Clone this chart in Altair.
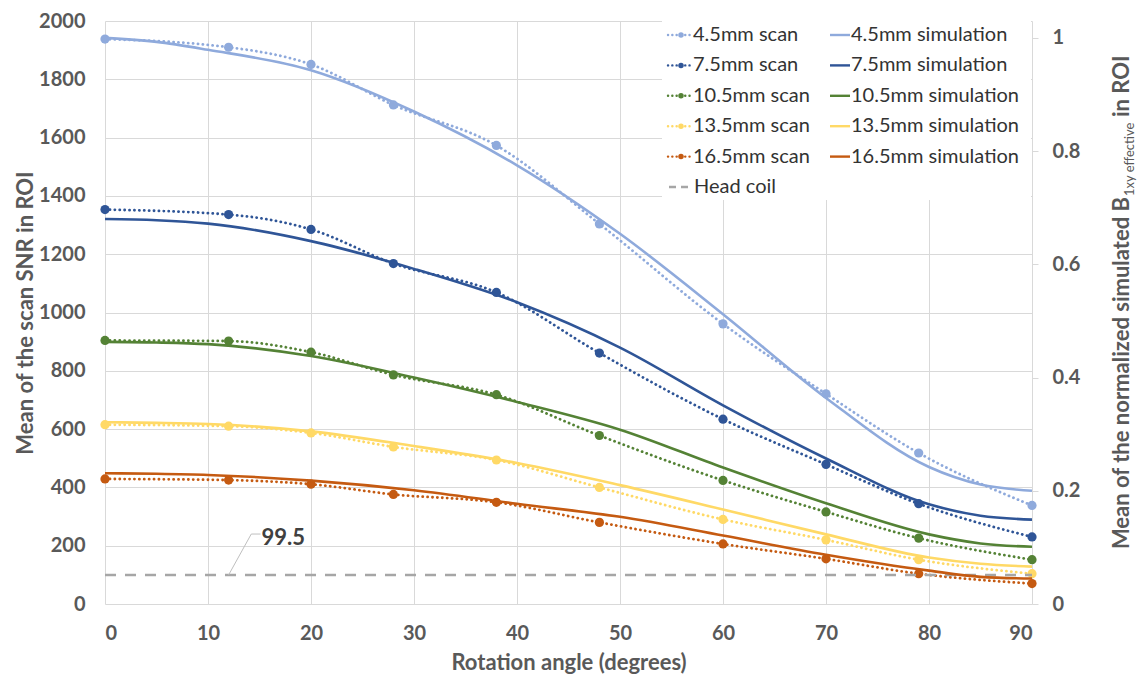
import altair as alt
import pandas as pd

# ---------------- data ----------------
series_names = ["4.5mm", "7.5mm", "10.5mm", "13.5mm", "16.5mm"]
series_colors = ["#8FAADC", "#2F5597", "#548235", "#FFD966", "#C55A11"]

angles_scan = [0, 12, 20, 28, 38, 48, 60, 70, 79, 90]
scan_45 = [1938, 1910, 1851, 1712, 1573, 1304, 961, 721, 518, 338]
scan_75 = [1353, 1336, 1285, 1168, 1069, 861, 634, 479, 344, 230]
scan_105 = [904, 902, 864, 786, 718, 578, 424, 316, 226, 152]
scan_135 = [615, 610, 587, 539, 494, 400, 290, 220, 152, 104]
scan_165 = [429, 425, 411, 376, 349, 280, 206, 155, 104, 70]

angles_sim = [0, 5, 10, 20, 30, 40, 50, 60, 70, 80, 85, 90]
sim_45 = [1.000, 0.993, 0.979, 0.943, 0.870, 0.775, 0.654, 0.512, 0.364, 0.242, 0.211, 0.200]
sim_75 = [0.680, 0.678, 0.672, 0.641, 0.592, 0.533, 0.453, 0.351, 0.257, 0.176, 0.156, 0.149]
sim_105 = [0.463, 0.462, 0.459, 0.438, 0.400, 0.357, 0.308, 0.241, 0.178, 0.123, 0.107, 0.101]
sim_135 = [0.321, 0.320, 0.318, 0.305, 0.279, 0.249, 0.210, 0.167, 0.123, 0.082, 0.071, 0.066]
sim_165 = [0.231, 0.230, 0.228, 0.218, 0.201, 0.177, 0.154, 0.121, 0.087, 0.059, 0.048, 0.045]

head_coil_value = 99.5
head_coil_range = [0, 90]

x_ticks = list(range(0, 91, 10))
left_ticks = list(range(0, 2001, 200))
right_ticks = [0, 0.2, 0.4, 0.6, 0.8, 1.0]

# ---------------- tables ----------------
scan_lists = [scan_45, scan_75, scan_105, scan_135, scan_165]
sim_lists = [sim_45, sim_75, sim_105, sim_135, sim_165]

scan_df = pd.DataFrame(
    [{"angle": a, "snr": v, "series": s}
     for s, vals in zip(series_names, scan_lists)
     for a, v in zip(angles_scan, vals)]
)
sim_df = pd.DataFrame(
    [{"angle": a, "b1": v, "series": s}
     for s, vals in zip(series_names, sim_lists)
     for a, v in zip(angles_sim, vals)]
)
coil_df = pd.DataFrame({"x0": [head_coil_range[0]], "x1": [head_coil_range[1]], "y": [head_coil_value]})

FONT = "Lato"
LABEL_COLOR = "#595959"
GRID = "#D9D9D9"
W, H = 927, 583

color_enc = alt.Color("series:N", scale=alt.Scale(domain=series_names, range=series_colors), legend=None)

x_enc = alt.X("angle:Q", scale=alt.Scale(domain=[0, 90], nice=False),
              axis=alt.Axis(values=x_ticks, title="Rotation angle (degrees)", grid=True,
                            labelPadding=19, titlePadding=9))

y_left = alt.Y("snr:Q", scale=alt.Scale(domain=[0, 2000], nice=False),
               axis=alt.Axis(values=left_ticks, orient="left", grid=True, format="d",
                             title="Mean of the scan SNR in ROI", labelPadding=20, titlePadding=1))

scan_lines = alt.Chart(scan_df).mark_line(
    strokeDash=[0.1, 4.8], strokeCap="round", strokeWidth=2.8, interpolate="monotone"
).encode(x=x_enc, y=y_left, color=color_enc)

scan_points = alt.Chart(scan_df).mark_circle(size=85, opacity=1).encode(
    x=x_enc, y=y_left, color=color_enc)

coil = alt.Chart(coil_df).mark_rule(color="#A6A6A6", strokeWidth=2.5, strokeDash=[11, 9]).encode(
    x=alt.X("x0:Q"), x2="x1:Q", y=alt.Y("y:Q"))

# annotation of the head-coil level
ann_df = pd.DataFrame({"angle": [12], "snr": [head_coil_value], "txt": [str(head_coil_value)]})
ann_text = alt.Chart(ann_df).mark_text(
    font=FONT, fontSize=22, fontWeight="bold", color="#404040", align="left", baseline="middle",
    dx=33, dy=-37
).encode(x="angle:Q", y="snr:Q", text="txt:N")
lead_df = pd.DataFrame({"angle": [12, 14.2, 15.1], "snr": [head_coil_value, 240, 240]})
ann_lead = alt.Chart(lead_df).mark_line(color="#BFBFBF", strokeWidth=1).encode(
    x="angle:Q", y="snr:Q")

# ---------------- legend (drawn by hand) ----------------
dummy = pd.DataFrame({"a": [0]})
legend_layers = [
    alt.Chart(dummy).mark_rect(color="white").encode(
        x=alt.value(557), x2=alt.value(926), y=alt.value(-2), y2=alt.value(179))
]
row0, row_step = 14, 30.4
LEG_FS = 20
for i, (name, col) in enumerate(zip(series_names, series_colors)):
    yy = row0 + i * row_step
    legend_layers.append(alt.Chart(dummy).mark_rule(
        color=col, strokeWidth=2.4, strokeDash=[0.1, 4.2], strokeCap="round").encode(
        x=alt.value(563), x2=alt.value(585), y=alt.value(yy)))
    legend_layers.append(alt.Chart(dummy).mark_circle(color=col, size=30, opacity=1).encode(
        x=alt.value(576), y=alt.value(yy)))
    legend_layers.append(alt.Chart(dummy).mark_text(
        text=f"{name} scan", font=FONT, fontSize=LEG_FS, color="#333333", align="left", baseline="middle").encode(
        x=alt.value(588), y=alt.value(yy)))
    legend_layers.append(alt.Chart(dummy).mark_rule(color=col, strokeWidth=2.4).encode(
        x=alt.value(725), x2=alt.value(745), y=alt.value(yy)))
    legend_layers.append(alt.Chart(dummy).mark_text(
        text=f"{name} simulation", font=FONT, fontSize=LEG_FS, color="#333333", align="left", baseline="middle").encode(
        x=alt.value(746), y=alt.value(yy)))
yy = row0 + 5 * row_step
legend_layers.append(alt.Chart(dummy).mark_rule(color="#A6A6A6", strokeWidth=2.4, strokeDash=[7, 5]).encode(
    x=alt.value(564), x2=alt.value(588), y=alt.value(yy)))
legend_layers.append(alt.Chart(dummy).mark_text(
    text="Head coil", font=FONT, fontSize=LEG_FS, color="#333333", align="left", baseline="middle").encode(
    x=alt.value(589), y=alt.value(yy)))

# ---------------- right axis title with subscript ----------------
rt_x, rt_y = 1017, 176
right_title = [
    alt.Chart(dummy).mark_text(text="Mean of the normalized simulated B", font=FONT, fontSize=22,
                               fontWeight="bold", color=LABEL_COLOR, angle=270, align="right",
                               baseline="middle").encode(x=alt.value(rt_x), y=alt.value(rt_y)),
    alt.Chart(dummy).mark_text(text="1xy effective", font=FONT, fontSize=13,
                               color=LABEL_COLOR, angle=270, align="left",
                               baseline="middle").encode(x=alt.value(rt_x + 8), y=alt.value(rt_y - 1)),
    alt.Chart(dummy).mark_text(text="in ROI", font=FONT, fontSize=22,
                               fontWeight="bold", color=LABEL_COLOR, angle=270, align="left",
                               baseline="middle").encode(x=alt.value(rt_x), y=alt.value(rt_y - 80)),
]

left_layer = alt.layer(scan_lines, scan_points, coil, ann_lead, ann_text, *legend_layers, *right_title)

# ---------------- simulation curves on the secondary axis ----------------
y_right = alt.Y("b1:Q", scale=alt.Scale(domain=[0, 2000 / 1942], nice=False),
                axis=alt.Axis(values=right_ticks, orient="right", format="~g", grid=False,
                              ticks=True, tickSize=6, tickColor=GRID, title=None, labelPadding=14))
sim_lines = alt.Chart(sim_df).mark_line(strokeWidth=2.6, interpolate="monotone").encode(
    x=x_enc, y=y_right, color=color_enc)

chart = alt.layer(left_layer, sim_lines).resolve_scale(y="independent").properties(
    width=W, height=H,
    padding={"left": 97, "top": 13, "right": 106, "bottom": 73},
    autosize=alt.AutoSizeParams(type="none"),
    background="white",
).configure_view(stroke=None).configure_axis(
    labelFont=FONT, labelFontSize=20, labelFontWeight="bold", labelColor=LABEL_COLOR,
    titleFont=FONT, titleFontSize=22, titleFontWeight="bold", titleColor=LABEL_COLOR,
    gridColor=GRID, gridWidth=1, domain=False, ticks=False,
)

chart.save("out.html", embed_options={"renderer": "svg", "actions": False})
